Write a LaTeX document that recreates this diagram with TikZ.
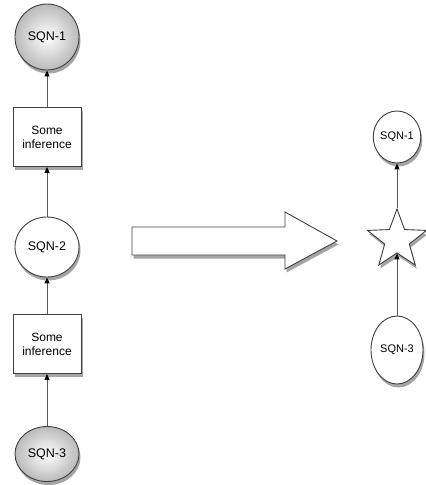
\documentclass[tikz,border=0pt]{standalone}
\usepackage{fontspec}
\setmainfont{Liberation Sans}
\usetikzlibrary{arrows.meta,shapes.geometric,shadows}

\tikzset{
  softshadow/.style={drop shadow={shadow xshift=1.5pt, shadow yshift=-3.5pt,
    opacity=0.5, fill=black!70}},
  sqn/.style={ellipse, draw=black!75, line width=0.9pt, inner sep=0pt,
    minimum width=64, minimum height=60, font=\fontsize{12.5}{14}\selectfont, softshadow},
  sqngray/.style={sqn, shading=radial, inner color=white, outer color=black!27},
  sqnwhite/.style={sqn, fill=white},
  infer/.style={rectangle, draw=black!75, line width=0.9pt, fill=white,
    minimum width=68, minimum height=59, inner sep=0pt, align=center,
    font=\fontsize{12}{14}\selectfont, softshadow},
  link/.style={draw=black!65, line width=1pt, -{Triangle[length=6pt,width=5pt,black]}},
}

\begin{document}
\begin{tikzpicture}[x=1pt, y=-1pt]
  \useasboundingbox (0,0) rectangle (426,485);

  % left chain
  \node[sqngray, minimum height=66] (l1) at (47,37) {SQN-1};
  \node[infer] (i1) at (47,137) {Some\\inference};
  \node[sqnwhite] (l2) at (47,247) {SQN-2};
  \node[infer] (i2) at (47,344) {Some\\inference};
  \node[sqngray, minimum height=55] (l3) at (47,454) {SQN-3};

  \draw[link] (i1) -- (l1);
  \draw[link] (l2) -- (i1);
  \draw[link] (i2) -- (l2);
  \draw[link] (l3) -- (i2);

  % big arrow
  \draw[black!75, line width=0.9pt, fill=white, softshadow]
    (132,227) -- (285,227) -- (285,212) -- (337,241) -- (285,269)
    -- (285,255) -- (132,255) -- cycle;

  % right chain
  \node[sqnwhite, minimum width=46, minimum height=52,
    font=\fontsize{11}{13}\selectfont] (r1) at (397,137) {SQN-1};
  \node[star, star points=5, star point ratio=2.4, minimum size=62,
    inner sep=0pt, draw=black!75, line width=0.9pt, fill=white, softshadow]
    (st) at (397,240) {};
  \node[sqnwhite, minimum width=52, minimum height=68,
    font=\fontsize{11}{13}\selectfont] (r3) at (397,350) {SQN-3};

  \draw[link] (st) -- (r1);
  \draw[link] (r3) -- (st);
\end{tikzpicture}
\end{document}
